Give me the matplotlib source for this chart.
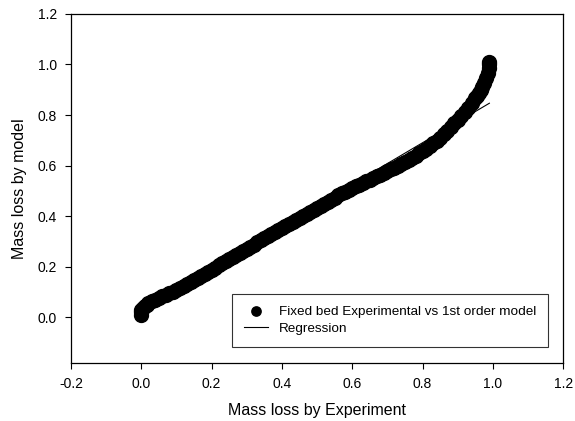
import matplotlib
matplotlib.use("Agg")
import matplotlib.pyplot as plt
import numpy as np

plt.rcParams['font.family'] = ['Liberation Sans', 'DejaVu Sans']

# experimental vs model mass loss
exp_loss = [0.0, 0.0, 0.0, 0.005, 0.01, 0.015, 0.02, 0.03, 0.04, 0.05,
            0.06, 0.07, 0.08, 0.09, 0.10, 0.11, 0.12, 0.13, 0.14, 0.15,
            0.16, 0.17, 0.18, 0.19, 0.20, 0.21, 0.22, 0.23, 0.24, 0.25,
            0.26, 0.27, 0.28, 0.29, 0.30, 0.31, 0.32, 0.33, 0.34, 0.35,
            0.36, 0.37, 0.38, 0.39, 0.40, 0.41, 0.42, 0.43, 0.44, 0.45,
            0.46, 0.47, 0.48, 0.49, 0.50, 0.51, 0.52, 0.53, 0.54, 0.55,
            0.56, 0.57, 0.58, 0.59, 0.60, 0.61, 0.62, 0.63, 0.64, 0.65,
            0.66, 0.67, 0.68, 0.69, 0.70, 0.71, 0.72, 0.73, 0.74, 0.75,
            0.76, 0.77, 0.78, 0.79, 0.80, 0.81, 0.82, 0.83, 0.84, 0.85,
            0.86, 0.87, 0.88, 0.89, 0.90, 0.91, 0.92, 0.93, 0.94, 0.95,
            0.955, 0.96, 0.965, 0.97, 0.975, 0.98, 0.985, 0.99, 0.99, 0.99]
model_loss = [0.010, 0.020, 0.030, 0.038, 0.045, 0.050, 0.055, 0.063, 0.070, 0.077,
              0.083, 0.089, 0.095, 0.101, 0.108, 0.115, 0.123, 0.131, 0.139, 0.147,
              0.155, 0.163, 0.172, 0.180, 0.189, 0.197, 0.206, 0.214, 0.222, 0.231,
              0.239, 0.247, 0.256, 0.264, 0.272, 0.280, 0.288, 0.297, 0.305, 0.313,
              0.321, 0.329, 0.337, 0.345, 0.353, 0.361, 0.369, 0.377, 0.385, 0.393,
              0.401, 0.410, 0.418, 0.426, 0.434, 0.442, 0.450, 0.458, 0.466, 0.474,
              0.482, 0.490, 0.497, 0.504, 0.511, 0.518, 0.525, 0.531, 0.538, 0.545,
              0.551, 0.558, 0.564, 0.571, 0.578, 0.585, 0.592, 0.599, 0.606, 0.614,
              0.622, 0.630, 0.639, 0.648, 0.657, 0.667, 0.677, 0.688, 0.699, 0.711,
              0.724, 0.738, 0.752, 0.767, 0.782, 0.797, 0.812, 0.828, 0.846, 0.866,
              0.877, 0.888, 0.900, 0.910, 0.925, 0.945, 0.965, 0.985, 1.000, 1.010]

reg_intercept = 0.033
reg_slope = 0.822
reg_range = [0.0, 0.99]

fig = plt.figure(figsize=(5.75, 4.21), dpi=100)
ax = fig.add_axes([0.1235, 0.138, 0.856, 0.829])

ax.plot(exp_loss, model_loss, 'o', color='black', markersize=10,
        label='Fixed bed Experimental vs 1st order model')
rx = np.array(reg_range)
ax.plot(rx, reg_intercept + reg_slope * rx, '-', color='black', linewidth=0.8,
        label='Regression')

ax.set_xlim(-0.2, 1.2)
ax.set_ylim(-0.18, 1.2)
ax.set_xticks([-0.2, 0.0, 0.2, 0.4, 0.6, 0.8, 1.0, 1.2])
ax.set_yticks([0.0, 0.2, 0.4, 0.6, 0.8, 1.0, 1.2])
ax.xaxis.set_major_formatter(matplotlib.ticker.FormatStrFormatter('%.1f'))
ax.yaxis.set_major_formatter(matplotlib.ticker.FormatStrFormatter('%.1f'))
ax.tick_params(direction='out', length=4, width=0.8, labelsize=10, pad=6)
for s in ax.spines.values():
    s.set_linewidth(0.9)

ax.set_xlabel('Mass loss by Experiment', fontsize=11.5, labelpad=9)
ax.set_ylabel('Mass loss by model', fontsize=11.5, labelpad=8)

leg = ax.legend(loc='lower right', bbox_to_anchor=(0.97, 0.046), borderaxespad=0,
                fontsize=9.7, frameon=True, fancybox=False, edgecolor='black',
                handlelength=1.8, markerscale=0.67, borderpad=0.9, labelspacing=0.3)
leg.get_frame().set_linewidth(0.8)

fig.savefig('out.png', dpi=100)
